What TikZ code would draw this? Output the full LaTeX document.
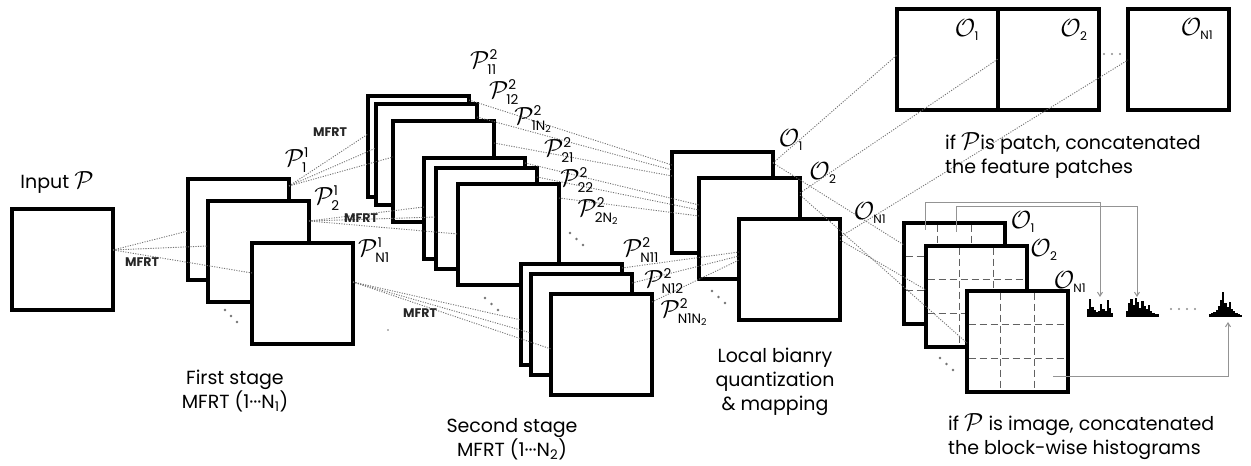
\documentclass[tikz,border=0pt]{standalone}
\usepackage{amsmath}
\usepackage{fontspec}
\setmainfont{Poppins}
\usetikzlibrary{calc,arrows.meta}

% square feature map placed by its top-left corner
\newcommand\fmap[3]{\node[sq] (#1) at ({#2+50.5},{#3+50.5}) {};}
% 3x3 dashed block grid inside a feature map
\newcommand\blocks[1]{%
  \foreach \t in {33.7,67.3}{%
    \draw[cell] ($(#1.north west)+(\t,1.6)$) -- ($(#1.south west)+(\t,-1.6)$);
    \draw[cell] ($(#1.north west)+(1.6,\t)$) -- ($(#1.north east)+(-1.6,\t)$);}}
% small histogram: left x, bar heights
\newcommand\hist[2]{%
  \foreach \h [count=\i] in {#2}{\fill ({#1+(\i-1)*2.2},317) rectangle ++(2.25,-\h);}}
% three dots running down to the right
\newcommand\more[3]{%
  \foreach \k in {0,1,2}{\fill[black!55] ({#1+\k*#3},{#2+\k*6}) circle (1.3);}}
\newcommand\Pl[2]{$\mathcal{P}^{\scriptscriptstyle\text{#1}}_{\scriptscriptstyle\text{#2}}$}
\newcommand\Ol[1]{$\mathcal{O}_{\scriptscriptstyle\text{#1}}$}

\begin{document}
\begin{tikzpicture}[x=1bp,y=-1bp,
  sq/.style={draw=black,line width=3.2bp,fill=white,minimum width=101bp,
    minimum height=101bp,inner sep=0,outer sep=0},
  link/.style={draw=black!55,line width=0.9bp,dash pattern=on 1.1bp off 1.4bp},
  cell/.style={draw=black!62,line width=1.2bp,dash pattern=on 7bp off 4bp},
  route/.style={draw=black!42,line width=1bp,-{Straight Barb[length=4bp,width=5bp]}},
  lbl/.style={font=\fontsize{19bp}{24bp}\selectfont,inner sep=0},
  tag/.style={font=\fontsize{12.5bp}{14bp}\selectfont\bfseries,inner sep=0,text=black!85},
  sym/.style={font=\fontsize{27bp}{29bp}\selectfont,inner sep=0},
  osym/.style={font=\fontsize{24bp}{26bp}\selectfont,inner sep=0}]
\useasboundingbox (0,0) rectangle (1251,466);

% input and first stage
\fmap{inp}{12}{209}
\fmap{f1}{188}{179}
\fmap{f2}{208}{201}
\fmap{f3}{252}{243}
% second stage, one stack per first-stage map
\fmap{sA}{368}{96}
\fmap{sB}{376}{104}
\fmap{sC}{393}{121}
\fmap{sD}{424}{158}
\fmap{sE}{436}{168}
\fmap{sF}{458}{184}
\fmap{sG}{521}{264}
\fmap{sH}{531}{274}
\fmap{sI}{551}{294}
% binary quantization outputs
\fmap{q1}{672}{152}
\fmap{q2}{699}{178}
\fmap{q3}{739}{219}
% concatenated patch features
\fmap{t1}{897}{9}
\fmap{t2}{998}{9}
\fmap{tN}{1128}{9}
% block-wise maps
\fmap{r1}{904}{223}\blocks{r1}
\fmap{r2}{926}{246}\blocks{r2}
\fmap{r3}{967}{291}\blocks{r3}

% input -> first stage
\foreach \n/\d in {f1/52,f2/45,f3/30}
  \draw[link] ($(inp.north east)+(0,41)$) -- ($(\n.north west)+(0,\d)$);
% first stage -> second stage
\foreach \n/\d in {sA/38,sB/44,sC/36}
  \draw[link] ($(f1.north east)+(0,7)$) -- ($(\n.north west)+(0,\d)$);
\foreach \n/\d in {sD/49,sE/49,sF/50}
  \draw[link] ($(f2.north east)+(0,20)$) -- ($(\n.north west)+(0,\d)$);
\foreach \n/\d in {sG/56,sH/59,sI/55}
  \draw[link] ($(f3.north east)+(0,39)$) -- ($(\n.north west)+(0,\d)$);
% second stage -> quantization
\foreach \n/\s/\d in {sA/4/13,sB/13/18,sC/22/24}
  \draw[link] ($(\n.north east)+(0,\s)$) -- ($(q1.north west)+(0,\d)$);
\foreach \n/\s/\d in {sD/5/27,sE/9/32,sF/14/38}
  \draw[link] ($(\n.north east)+(0,\s)$) -- ($(q2.north west)+(0,\d)$);
\foreach \n/\s/\d in {sG/4/33,sH/9/37,sI/8/41}
  \draw[link] ($(\n.north east)+(0,\s)$) -- ($(q3.north west)+(0,\d)$);
% quantization -> patch concatenation
\draw[link] ($(q1.north east)+(0,11)$) -- ($(t1.north west)+(0,46)$);
\draw[link] ($(q2.north east)+(0,15)$) -- ($(t2.north west)+(0,50)$);
\draw[link] ($(q3.north east)+(0,18)$) -- ($(tN.north west)+(0,51)$);
% quantization -> block-wise maps
\draw[link] ($(q1.north east)+(0,11)$) -- ($(r1.north west)+(0,22)$);
\draw[link] ($(q2.north east)+(0,17)$) -- ($(r3.north west)+(0,52)$);
\draw[link] ($(q3.north east)+(0,21)$) -- ($(r2.north west)+(0,44)$);

% histograms
\coordinate (h1) at (1100,297);
\coordinate (h2) at (1137,297);
\coordinate (h3) at (1228,322);
\hist{1087}{8,18,10,7,5,6,13,8,6,17,9,4}
\hist{1126}{6,14,18,12,19,15,9,16,11,8,12,6,4,3,3}
\hist{1209}{3,4,5,7,11,17,25,14,10,15,8,6,4,3,2}
\draw[route] ($(r1.north west)+(21,7)$) |- ($(h1)+(0,-94)$) -- (h1);
\draw[route] ($(r1.north west)+(52,9)$) |- ($(h2)+(0,-90)$) -- (h2);
\draw[route] ($(r3.north west)+(86,86)$) -| (h3);

% ellipsis marks
\more{225}{310}{6}
\more{485}{298}{6.5}
\more{570}{233}{6.5}
\more{712}{291}{6.5}
\more{940}{358}{6.5}
\foreach \x in {1104,1112,1120}{\fill[black!45] (\x,54) circle (1.2);}
\foreach \x in {1171,1179,1187,1195}{\fill[black!45] (\x,309) circle (1.2);}
\fill[black!55] (388,330) circle (0.9);

% labels
\node[lbl] (tin) at (57,183) {Input \fontsize{24bp}{24bp}\selectfont$\mathcal{P}$};
\node[tag] (m0) at (142,262) {MFRT};
\node[tag] (m1) at (330,132) {MFRT};
\node[tag] (m2) at (361,218) {MFRT};
\node[tag] (m3) at (420,313) {MFRT};

\node[sym] (p11) at (297,160) {\Pl{1}{1}};
\node[sym] (p12) at (327,198) {\Pl{1}{2}};
\node[sym] (p1n) at (374,250) {\Pl{1}{N1}};

\node[sym] (p211) at (484,62) {\Pl{2}{11}};
\node[sym] (p212) at (504,92) {\Pl{2}{12}};
\node[sym] (p21n) at (533,119) {\Pl{2}{1N\textsubscript{2}}};
\node[sym] (p221) at (559,150) {\Pl{2}{21}};
\node[sym] (p222) at (577,180) {\Pl{2}{22}};
\node[sym] (p22n) at (598,211) {\Pl{2}{2N\textsubscript{2}}};
\node[sym] (p2n1) at (641,250) {\Pl{2}{N11}};
\node[sym] (p2n2) at (664,281) {\Pl{2}{N12}};
\node[sym] (p2nn) at (684,312) {\Pl{2}{N1N\textsubscript{2}}};

\node[osym] (o1) at (791,140) {\Ol{1}};
\node[osym] (o2) at (823,173) {\Ol{2}};
\node[osym] (on) at (870,213) {\Ol{N1}};
\node[osym] (to1) at (967,30) {\Ol{1}};
\node[osym] (to2) at (1074,30) {\Ol{2}};
\node[osym] (ton) at (1197,29) {\Ol{N1}};
\node[osym] (ro1) at (1023,222) {\Ol{1}};
\node[osym] (ro2) at (1044,250) {\Ol{2}};
\node[osym] (ron) at (1070,282) {\Ol{N1}};

\node[lbl,align=center] (st1) at (235,391)
  {First stage\\MFRT (1\textperiodcentered\textperiodcentered\textperiodcentered N\textsubscript{1})};
\node[lbl,align=center] (st2) at (512,439)
  {Second stage\\MFRT (1\textperiodcentered\textperiodcentered\textperiodcentered N\textsubscript{2})};
\node[lbl,align=center] (st3) at (775,382)
  {Local bianry\\quantization\\\& mapping};
\node[lbl,align=left,anchor=west] (cp) at (945,156)
  {if {\fontsize{24bp}{24bp}\selectfont$\mathcal{P}$}is patch, concatenated\\the feature patches};
\node[lbl,align=left,anchor=west] (ci) at (948,437)
  {if {\fontsize{24bp}{24bp}\selectfont$\mathcal{P}$} is image, concatenated\\the block-wise histograms};
\end{tikzpicture}
\end{document}
